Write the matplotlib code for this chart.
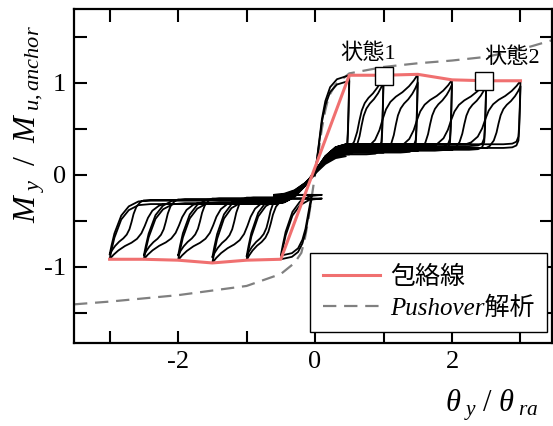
import numpy as np
import matplotlib
matplotlib.use("Agg")
import matplotlib.pyplot as plt
from matplotlib.ticker import MultipleLocator

plt.rcParams["font.family"] = ["Liberation Serif", "Noto Sans CJK JP"]
plt.rcParams["mathtext.fontset"] = "custom"
plt.rcParams["mathtext.rm"] = "Liberation Serif"
plt.rcParams["mathtext.it"] = "Liberation Serif:italic"
plt.rcParams["axes.unicode_minus"] = False

# ---- cyclic test: drift amplitudes and peak moments (two cycles each) ----
amplitudes = [0.5, 1.0, 1.5, 2.0, 2.5, 3.0]
peak_pos_first = [1.08, 1.08, 1.09, 1.03, 1.02, 1.02]
peak_neg_first = [-0.92, -0.93, -0.96, -0.93, -0.92, -0.92]
peak_pos_second = [1.02, 1.01, 1.00, 0.98, 0.97, 0.96]
peak_neg_second = [-0.88, -0.89, -0.90, -0.88, -0.88, -0.87]
slip_pos = [0.24, 0.26, 0.28, 0.30, 0.31, 0.33]
slip_neg = [-0.26, -0.27, -0.29, -0.30, -0.31, -0.32]

# branch shapes (normalised)
reload_u = [0.0, 0.10, 0.22, 0.30, 0.36, 0.42, 0.50, 0.60, 0.72, 0.84, 0.93, 1.0]
reload_v = [0.0, 0.03, 0.12, 0.25, 0.40, 0.53, 0.63, 0.70, 0.76, 0.84, 0.92, 1.0]
unload_pos_dx = [0.0, -0.01, -0.02, -0.03, -0.06, -0.12, -0.25]
unload_pos_w = [1.0, 0.60, 0.30, 0.12, 0.04, 0.01, 0.0]
unload_neg_dx = [0.0, 0.03, 0.07, 0.17, 0.28, 0.42, 0.60]
unload_neg_w = [1.0, 0.82, 0.61, 0.28, 0.11, 0.02, 0.0]
center_x = [-0.60, -0.45, -0.30, -0.15, 0.0, 0.15, 0.30, 0.45]
center_v = [0.0, 0.03, 0.12, 0.30, 0.55, 0.80, 0.95, 1.0]
first_u = [0.0, 0.10, 0.20, 0.30, 0.44, 0.64, 1.0]
first_v = [0.0, 0.28, 0.56, 0.74, 0.88, 0.96, 1.0]

# envelope of the cyclic response
env_x = [-3.0, -2.5, -2.0, -1.5, -1.0, -0.5, 0.5, 1.0, 1.5, 2.0, 2.5, 3.0]
env_y = [-0.92, -0.92, -0.93, -0.96, -0.93, -0.92, 1.08, 1.08, 1.09, 1.03, 1.02, 1.02]

# monotonic pushover analysis
push_x = [-3.52, -3.0, -2.0, -1.0, -0.5, -0.3, -0.2, -0.15, -0.1, -0.05, 0.0,
          0.05, 0.1, 0.15, 0.2, 0.3, 0.5, 1.0, 1.5, 2.0, 2.5, 3.0, 3.46]
push_y = [-1.41, -1.38, -1.31, -1.21, -1.08, -0.96, -0.85, -0.70, -0.50, -0.25, 0.0,
          0.25, 0.50, 0.70, 0.85, 0.98, 1.10, 1.17, 1.21, 1.24, 1.28, 1.36, 1.46]

# marked states
state_x = [1.0, 2.47]
state_y = [1.07, 1.02]
state_labels = ["状態1", "状態2"]
state_text_x = [0.78, 2.88]
state_text_y = [1.32, 1.27]


def cycle(amp, p_pos, p_neg, start, sp, sn, first_small, from_origin):
    xs, ys = [], []
    ru, rv = np.array(reload_u), np.array(reload_v)
    cx, cv = np.array(center_x), np.array(center_v)
    fu, fv = np.array(first_u), np.array(first_v)
    if first_small:
        if not from_origin:
            xs += [-0.45, -0.25, -0.12]; ys += [sn, sn * 0.8, sn * 0.4]
        xs += list(fu * amp); ys += list(p_pos * fv)
    else:
        xs += list(cx); ys += list(sn + (sp - sn) * cv)
        xs += [start]; ys += [sp]
        xs += list(start + (amp - start) * ru); ys += list(sp + (p_pos - sp) * rv)
    xs += list(amp + np.array(unload_pos_dx)); ys += list(sp + (p_pos - sp) * np.array(unload_pos_w))
    xs += list(cx[::-1]); ys += list(sn + (sp - sn) * cv[::-1])
    if first_small:
        xs += list(-0.05 - fu * (amp - 0.05)); ys += list(sn + (p_neg - sn) * fv)
    else:
        xs += [-start]; ys += [sn]
        xs += list(-start - (amp - start) * ru); ys += list(sn + (p_neg - sn) * rv)
    xs += list(-amp + np.array(unload_neg_dx)); ys += list(sn + (p_neg - sn) * np.array(unload_neg_w))
    xs += [-0.60]; ys += [sn]
    return xs, ys


fig = plt.figure(figsize=(5.53, 4.26), dpi=100)
ax = fig.add_axes([74 / 553, 1 - 343 / 426, (552 - 74) / 553, (343 - 9) / 426])

for i, amp in enumerate(amplitudes):
    prev = amplitudes[i - 1] if i > 0 else 0.0
    for c in range(2):
        if c == 0:
            start = max(prev - 0.3, 0.45)
            p_pos, p_neg = peak_pos_first[i], peak_neg_first[i]
            sp, sn = slip_pos[i], slip_neg[i]
        else:
            start = max(amp - 0.5, 0.45)
            p_pos, p_neg = peak_pos_second[i], peak_neg_second[i]
            sp, sn = slip_pos[i] - 0.04, slip_neg[i] + 0.04
        xs, ys = cycle(amp, p_pos, p_neg, start, sp, sn,
                       i == 0, i == 0 and c == 0)
        ax.plot(xs, ys, color="black", lw=1.3, solid_joinstyle="round", zorder=2)

ax.plot(push_x, push_y, color="#808080", lw=1.6, ls=(0, (6, 3.5)), zorder=1,
        label="Pushover解析")
ax.plot(env_x, env_y, color="#F07070", lw=2.2, zorder=3, label="包絡線")

ax.plot(state_x, state_y, ls="none", marker="s", ms=13, mfc="white", mec="black",
        mew=1.0, zorder=4)
for tx, ty, lab in zip(state_text_x, state_text_y, state_labels):
    ax.text(tx, ty, lab, fontsize=16, ha="center", va="center", zorder=5)

ax.set_xlim(-3.52, 3.46)
ax.set_ylim(-1.83, 1.80)
ax.xaxis.set_major_locator(MultipleLocator(2))
ax.xaxis.set_minor_locator(MultipleLocator(1))
ax.yaxis.set_major_locator(MultipleLocator(1))
ax.yaxis.set_minor_locator(MultipleLocator(0.5))
ax.tick_params(which="both", direction="in", top=True, right=True, width=1.5,
               labelsize=19, pad=6)
ax.tick_params(which="major", length=9)
ax.tick_params(which="minor", length=9)
for s in ax.spines.values():
    s.set_linewidth(1.6)

h, l = ax.get_legend_handles_labels()
leg = ax.legend([h[1], h[0]], [l[1], l[0]], loc="upper left",
                bbox_to_anchor=(0.494, 0.269), fontsize=18, frameon=True,
                fancybox=False, edgecolor="black", framealpha=1,
                handlelength=2.3, handletextpad=0.4, borderpad=0.5,
                labelspacing=0.3, borderaxespad=0)
leg.get_frame().set_linewidth(1.0)
leg.get_texts()[1].set_fontstyle("italic")

fig.text(492 / 553, 1 - 405 / 426, r"$\theta_{\ y}\ /\ \theta_{\ ra}$", fontsize=22,
         ha="center", va="center")
fig.text(30 / 553, 1 - 124 / 426, r"$M_{\ y}\;\ /\;\ M_{\ u,anchor}$", fontsize=23,
         ha="center", va="center", rotation=90)

fig.savefig("out.png", dpi=100)
